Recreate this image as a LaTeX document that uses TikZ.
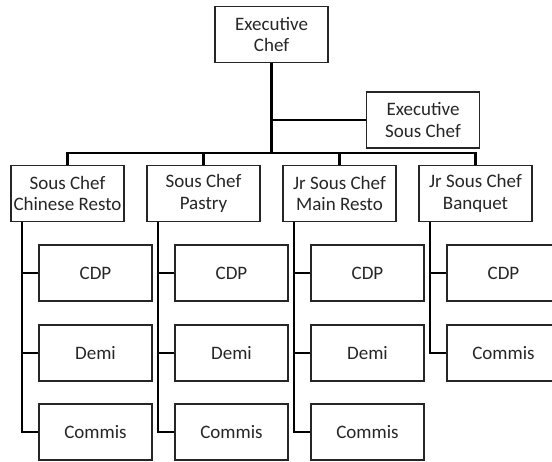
\documentclass[tikz,border=0pt]{standalone}
\usepackage{fontspec}
\setmainfont{Carlito}

\begin{document}
\begin{tikzpicture}[x=1pt,y=-1pt,
  box/.style={draw=black!85,line width=1.7pt,minimum width=113pt,minimum height=56pt,
    inner sep=0pt,align=center,font=\fontsize{19}{21.5}\selectfont,text=black!85},
  link/.style={black,line width=2.6pt}]
\clip (0,0) rectangle (552,461);
% top
\node [box] (chef) at (271.5,34.5) {Executive\\Chef};
\node [box] (exsous) at (423,120) {Executive\\Sous Chef};
\coordinate (bus) at (271.5,153);
% second row
\node [box] (chinese) at (67.5,193.5) {Sous Chef\\Chinese Resto};
\node [box] (pastry) at (203.5,193.5) {Sous Chef\\Pastry};
\node [box] (mainresto) at (339.5,193.5) {Jr Sous Chef\\Main Resto};
\node [box] (banquet) at (475.5,193.5) {Jr Sous Chef\\Banquet};
% leaves
\node [box] (cdpa) at (95.5,273) {CDP};
\node [box] (demia) at (95.5,353) {Demi};
\node [box] (commisa) at (95.5,432) {Commis};
\node [box] (cdpb) at (231.5,273) {CDP};
\node [box] (demib) at (231.5,353) {Demi};
\node [box] (commisb) at (231.5,432) {Commis};
\node [box] (cdpc) at (367.5,273) {CDP};
\node [box] (demic) at (367.5,353) {Demi};
\node [box] (commisc) at (367.5,432) {Commis};
\node [box] (cdpd) at (503.5,273) {CDP};
\node [box] (commisd) at (503.5,353) {Commis};
% connectors
\draw [link] (chef.south) -- (bus);
\draw [link] (chef.south |- exsous.west) -- (exsous.west);
\draw [link] (chinese.north) |- (bus) -| (banquet.north);
\draw [link] (pastry.north) -- (pastry.north |- bus);
\draw [link] (mainresto.north) -- (mainresto.north |- bus);
\draw [link] ([xshift=12pt]chinese.south west) |- (cdpa.west);
\draw [link] ([xshift=12pt]chinese.south west) |- (demia.west);
\draw [link] ([xshift=12pt]chinese.south west) |- (commisa.west);
\draw [link] ([xshift=12pt]pastry.south west) |- (cdpb.west);
\draw [link] ([xshift=12pt]pastry.south west) |- (demib.west);
\draw [link] ([xshift=12pt]pastry.south west) |- (commisb.west);
\draw [link] ([xshift=12pt]mainresto.south west) |- (cdpc.west);
\draw [link] ([xshift=12pt]mainresto.south west) |- (demic.west);
\draw [link] ([xshift=12pt]mainresto.south west) |- (commisc.west);
\draw [link] ([xshift=12pt]banquet.south west) |- (cdpd.west);
\draw [link] ([xshift=12pt]banquet.south west) |- (commisd.west);
\end{tikzpicture}
\end{document}
